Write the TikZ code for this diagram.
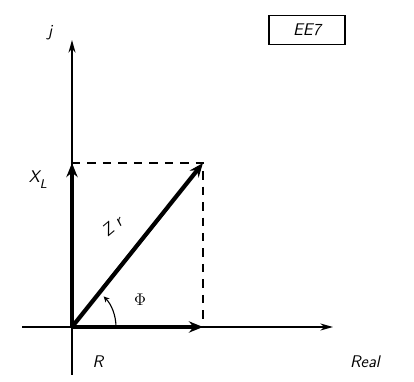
\documentclass[tikz,border=0pt]{standalone}
\usetikzlibrary{arrows.meta}
\tikzset{
	vect/.style={line width=3pt,-{Stealth[length=10pt,width=8pt]}},
	axis/.style={line width=1pt,-{Stealth[length=9pt,width=5pt]}},
	lbl/.style={font=\sffamily\itshape\large}
}
\begin{document}
\begin{tikzpicture}[thick,>=stealth]
			\useasboundingbox (0,0) rectangle (10.35,9.55);
			\coordinate (O) at (1.8,1.375);
			\coordinate (XL) at (1.8,5.475);
			\coordinate (R) at (5.075,1.375);
			\coordinate (Z) at (5.075,5.475);
			\coordinate (xl) at (0.55,1.375);
			\coordinate (xr) at (8.325,1.375);
			\coordinate (yb) at (1.8,0.175);
			\coordinate (yt) at (1.8,8.55);
			% axes
			\draw[axis] (xl) -- (xr);
			\draw[axis] (yb) -- (yt);
			% dashed projections
			\draw[line width=1pt,dash pattern=on 6pt off 5pt] (XL) -- (Z) -- (R);
			% phasors
			\draw[vect] (O) -- (XL);
			\draw[vect] (O) -- (R);
			\draw[vect] (O) -- (Z);
			% angle
			\draw[line width=0.8pt,->] (2.9,1.375) arc (0:44:1.1);
			% labels
			\node[lbl] (j) at (1.25,8.725) {j};
			\node[lbl] (xlab) at (0.95,5.05) {X\raisebox{-0.8ex}{\small L}};
			\node[lbl,rotate=40,inner sep=1pt] (zlab) at (2.8,3.9) {Z\hspace{4pt}r};
			\node[font=\large] (phi) at (3.5,2.05) {$\Phi$};
			\node[lbl] (rlab) at (2.45,0.5) {R};
			\node[lbl] (real) at (9.125,0.5) {Real};
			\node[draw,line width=1.2pt,lbl,minimum width=1.9cm,minimum height=0.72cm] (tag) at (7.675,8.8) {EE7};
		\end{tikzpicture}
\end{document}
